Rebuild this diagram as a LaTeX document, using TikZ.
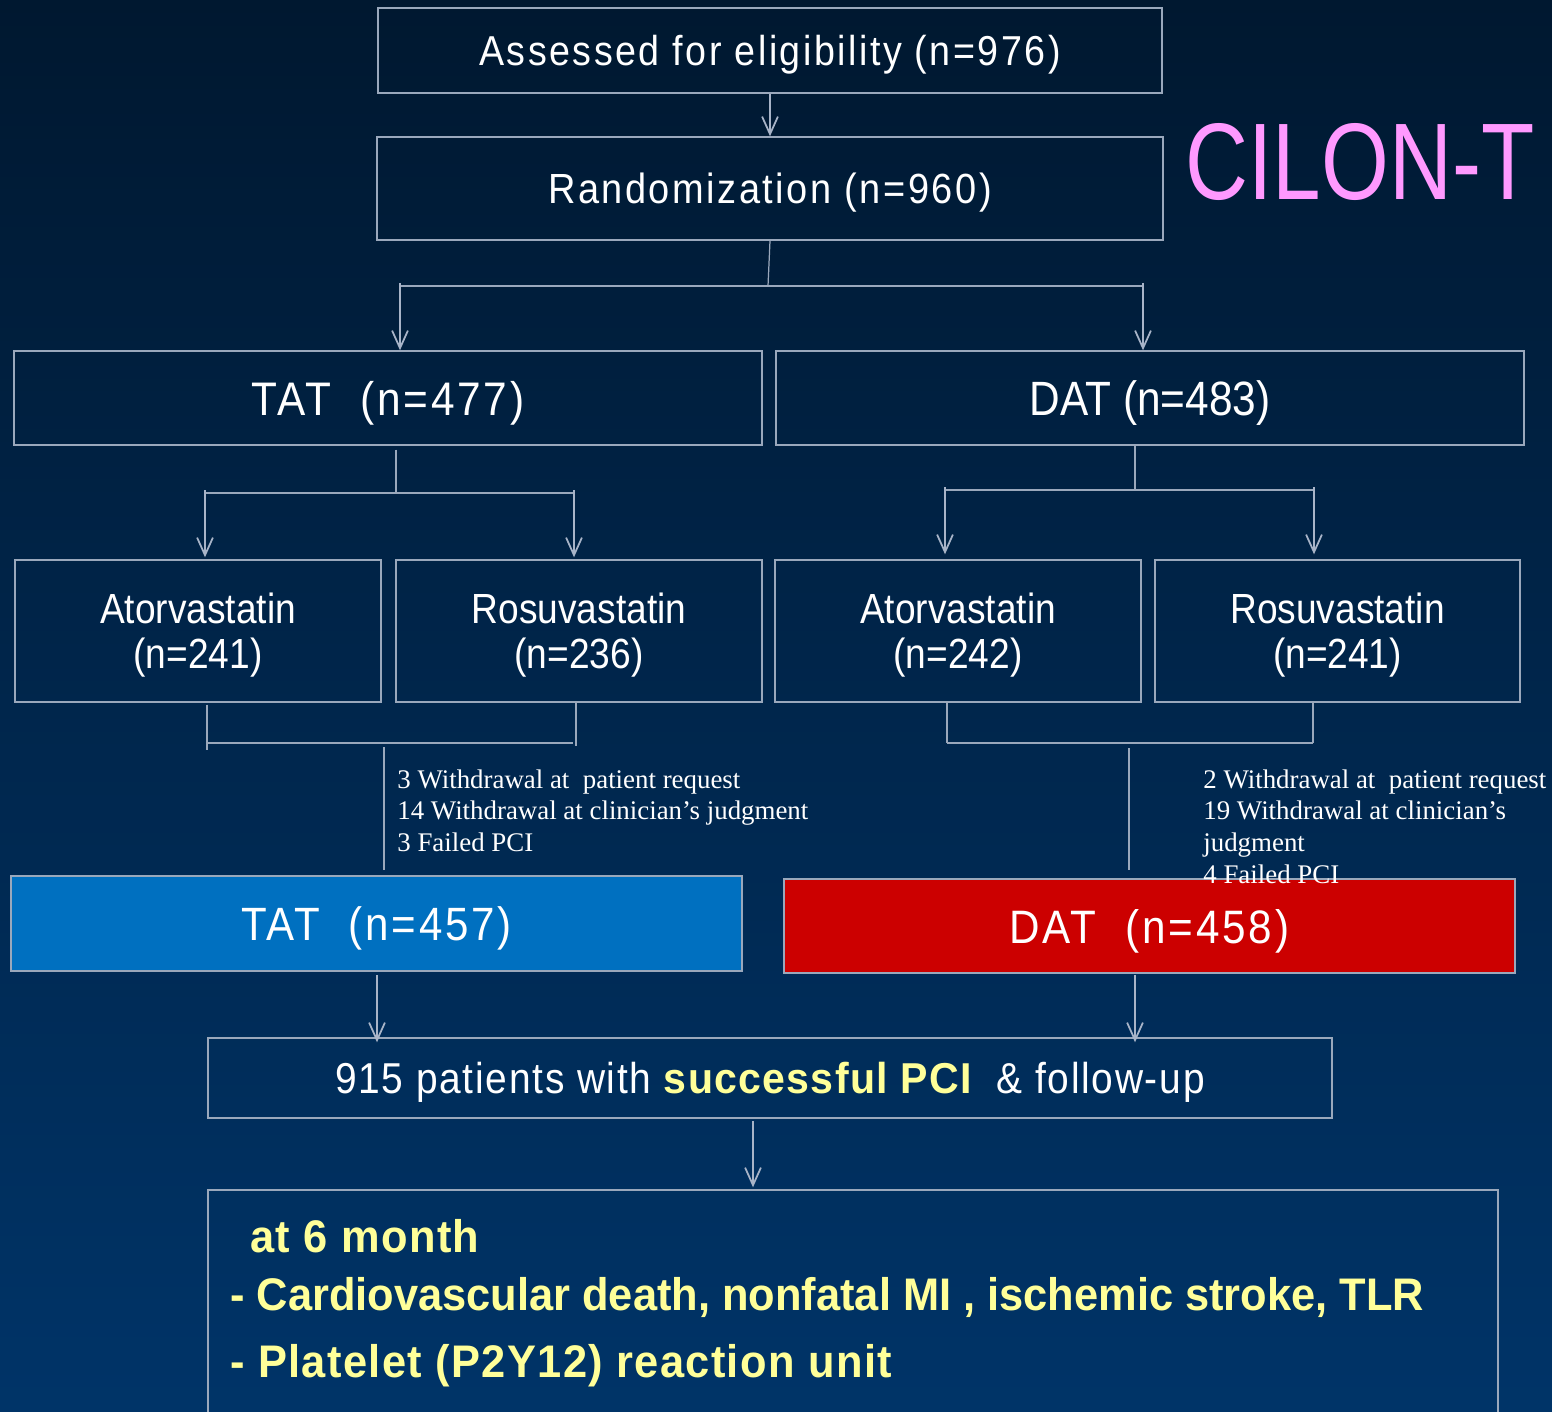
\documentclass[tikz,border=0pt]{standalone}
\usepackage{fontspec}
\usetikzlibrary{arrows.meta,calc}
\newfontfamily\nar{Liberation Sans}[FakeStretch=0.88]
\newfontfamily\narsp{Liberation Sans}[FakeStretch=0.9,LetterSpace=6]
\newfontfamily\narmid{Liberation Sans}[FakeStretch=0.9,LetterSpace=4]
\newfontfamily\narbold{Liberation Sans Bold}[FakeStretch=0.95,LetterSpace=3]
\newfontfamily\narboldA{Liberation Sans Bold}[FakeStretch=0.95]
\newfontfamily\cil{Liberation Sans}[FakeStretch=0.8]
\newfontfamily\tms{Liberation Serif}
\definecolor{bgtop}{HTML}{001830}
\definecolor{bgbot}{HTML}{003468}
\definecolor{ln}{HTML}{9AA8BC}
\definecolor{arln}{HTML}{A8B4C8}
\definecolor{yel}{HTML}{FFFF99}
\definecolor{pnk}{HTML}{FF99FF}
\definecolor{tatblue}{HTML}{0070C0}
\definecolor{datred}{HTML}{CC0000}
\tikzset{
  box/.style 2 args={draw=ln, line width=0.8pt, inner sep=0pt, text=white, align=center,
     text depth=0pt, minimum width=#1*0.02cm, minimum height=#2*0.02cm},
  conn/.style={draw=ln, line width=0.7pt},
  arr/.style={draw=arln, line width=1pt, -{Straight Barb[length=10pt,width=9pt,line width=1pt]}},
  note/.style={text=white, font=\tms\fontsize{15.3}{18.1}\selectfont, align=left, anchor=north west, inner sep=0pt},
  ytxt/.style={anchor=base west, inner sep=0pt, text=yel},
}
\begin{document}
\begin{tikzpicture}[x=0.02cm,y=-0.02cm]
\useasboundingbox (0,0) rectangle (1552,1412);
\shade[top color=bgtop, bottom color=bgbot] (0,0) rectangle (1552,1412);
\clip (0,0) rectangle (1552,1412);

\node (assess) [box={784}{85}, font=\narsp\fontsize{23.8}{27}\selectfont] at (770,50.5) {Assessed for eligibility (n=976)};
\node (rand) [box={786}{103}, font=\narsp\fontsize{24}{28}\selectfont] at (770,188.5) {Randomization (n=960)};
\node (cilon) [text=pnk, font=\cil\fontsize{62}{70}\selectfont, anchor=center, inner sep=0pt] at (1360,162) {CILON-T};

\node (tat1) [box={748}{94}, font=\narsp\fontsize{26.8}{32}\selectfont] at (388,398) {TAT\ \ (n=477)};
\node (dat1) [box={748}{94}, font=\nar\fontsize{27.4}{32}\selectfont] at (1150,398) {DAT (n=483)};

\node (la) [box={366}{142}, font=\nar\fontsize{24}{25.5}\selectfont] at (198,631) {Atorvastatin\\(n=241)};
\node (lr) [box={366}{142}, font=\nar\fontsize{24}{25.5}\selectfont] at (579,631) {Rosuvastatin\\(n=236)};
\node (ra) [box={366}{142}, font=\nar\fontsize{24}{25.5}\selectfont] at (958,631) {Atorvastatin\\(n=242)};
\node (rr) [box={365}{142}, font=\nar\fontsize{24}{25.5}\selectfont] at (1337.5,631) {Rosuvastatin\\(n=241)};

\node (tat2) [box={731}{95}, fill=tatblue, font=\narsp\fontsize{26.6}{32}\selectfont] at (376.5,923.5) {TAT\ \ (n=457)};
\node (dat2) [box={731}{94}, fill=datred, font=\narsp\fontsize{26.7}{32}\selectfont] at (1149.5,926) {DAT\ \ (n=458)};

\node (nl) [note] at (397,769) {3 Withdrawal at\ \ patient request\\14 Withdrawal at clinician’s judgment\\3 Failed PCI};
\node (nr) [note] at (1203,769) {2 Withdrawal at\ \ patient request\\19 Withdrawal at clinician’s\\judgment\\4 Failed PCI};

\node (succ) [box={1124}{80}, font=\narmid\fontsize{24.6}{28}\selectfont] at (770,1078) {915 patients with {\color{yel}\narbold successful PCI}\ \ \& follow-up};

\node (outc) [box={1290}{240}] at (853,1310) {};
\node (o1) [ytxt, font=\narbold\fontsize{26}{28}\selectfont] at (250,1252) {at 6 month};
\node (o2) [ytxt, font=\narboldA\fontsize{26}{28}\selectfont] at (230,1310) {- Cardiovascular death, nonfatal MI , ischemic stroke, TLR};
\node (o3) [ytxt, font=\narbold\fontsize{26}{28}\selectfont] at (230,1377) {- Platelet (P2Y12) reaction unit};

% connectors
\draw[arr] (assess.south) -- (rand.north);

\coordinate (j1) at (768,286);
\coordinate (j1l) at (400,286);
\coordinate (j1r) at (1143,286);
\draw[conn] (rand.south) -- (j1);
\draw[conn] (j1l) -- (j1r);
\draw[arr] ($(j1l)+(0,-3)$) -- (j1l |- tat1.north);
\draw[arr] ($(j1r)+(0,-3)$) -- (j1r |- dat1.north);

\coordinate (j2) at (396,493);
\coordinate (j2l) at (205,493);
\coordinate (j2r) at (574,493);
\draw[conn] ($(tat1.south)+(8,4)$) -- (j2);
\draw[conn] (j2l) -- (j2r);
\draw[arr] ($(j2l)+(0,-3)$) -- ($(j2l |- la.north)+(0,-2)$);
\draw[arr] ($(j2r)+(0,-3)$) -- ($(j2r |- lr.north)+(0,-2)$);

\coordinate (j3) at (1135,490);
\coordinate (j3l) at (945,490);
\coordinate (j3r) at (1314,490);
\draw[conn] ($(dat1.south)+(-15,0)$) -- (j3);
\draw[conn] (j3l) -- (j3r);
\draw[arr] ($(j3l)+(0,-3)$) -- ($(j3l |- ra.north)+(0,-5)$);
\draw[arr] ($(j3r)+(0,-3)$) -- ($(j3r |- rr.north)+(0,-5)$);

\coordinate (k1l) at (207,743);
\coordinate (k1r) at (576,743);
\draw[conn] (k1l |- la.south) ++(0,2) -- ($(k1l)+(0,7)$);
\draw[conn] (k1r |- lr.south) -- ($(k1r)+(0,3)$);
\draw[conn] (k1l) -- ($(k1r)+(-3,0)$);
\coordinate (k1a) at (384,747);
\coordinate (k1b) at (384,870);
\draw[conn] (k1a) -- (k1b);

\coordinate (k2l) at (947,743);
\coordinate (k2r) at (1313,743);
\draw[conn] (k2l |- ra.south) -- (k2l);
\draw[conn] (k2r |- rr.south) -- (k2r);
\draw[conn] (k2l) -- (k2r);
\coordinate (k2a) at (1129,748);
\coordinate (k2b) at (1129,870);
\draw[conn] (k2a) -- (k2b);

\coordinate (m1) at (377,975);
\coordinate (m2) at (1135,975);
\coordinate (m3) at (753,1121);
\draw[arr] (m1) -- ($(m1 |- succ.north)+(0,5)$);
\draw[arr] (m2) -- ($(m2 |- succ.north)+(0,5)$);
\draw[arr] (m3) -- ($(m3 |- outc.north)+(0,-2)$);
\end{tikzpicture}
\end{document}
